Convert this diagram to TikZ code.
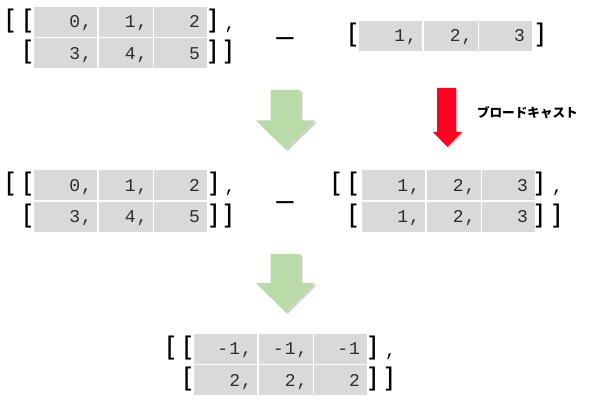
\documentclass[tikz,border=0pt]{standalone}
\usepackage{fontspec}
\newfontfamily\monof[LetterSpace=6]{Liberation Mono}
\newfontfamily\brkf{DejaVu Sans Mono}
\newfontfamily\dashf{Liberation Sans}
\newfontfamily\cjkf{Noto Sans CJK JP}
\definecolor{cellgray}{RGB}{217,217,217}
\definecolor{numgray}{RGB}{45,45,45}
\definecolor{arrgreen}{RGB}{185,219,168}
\definecolor{arrred}{RGB}{255,0,33}
\tikzset{
  cellbg/.style={fill=cellgray},
  num/.style={font=\monof\fontsize{18}{18}\selectfont, text=numgray, inner sep=0pt, outer sep=0pt, anchor=base east},
  brk/.style={font=\brkf\fontsize{27}{27}\selectfont, text=black, inner sep=0pt, outer sep=0pt},
  cma/.style={font=\monof\fontsize{18}{18}\selectfont, text=black, inner sep=0pt, outer sep=0pt, anchor=base},
  minus/.style={font=\dashf\fontsize{31}{31}\selectfont, text=black, inner sep=0pt, outer sep=0pt, anchor=base},
  lbl/.style={font=\cjkf\bfseries\fontsize{12.6}{12.6}\selectfont, text=black, inner sep=0pt, outer sep=0pt, anchor=west},
  garrow/.style={fill=arrgreen},
  rarrow/.style={fill=arrred},
  ashadow/.style={fill=black, opacity=0.18},
}
\newcommand\matrow[6]{%
  \fill[cellbg] (#2,#3) rectangle ++(63,30);
  \fill[cellbg] (#2+64.5,#3) rectangle ++(54,30);
  \fill[cellbg] (#2+120,#3) rectangle ++(53,30);
  \node[num] (#1a) at (#2+58,#3+21) {#4};
  \node[num] (#1b) at (#2+113.5,#3+21) {#5};
  \node[num] (#1c) at (#2+166,#3+21) {#6};
}
\begin{document}
\begin{tikzpicture}[x=1pt,y=-1pt]
\useasboundingbox[fill=white] (0,0) rectangle (590,403);
% ---------- top left matrix
\matrow{tla}{34}{7}{0,}{1,}{2}
\matrow{tlb}{34}{38.5}{3,}{4,}{5}
\node[brk] (tlo) at (10,21) {[};
\node[brk] (tli1) at (27.5,21) {[};
\node[brk] (tlc1) at (213,21) {]};
\node[cma] (tlk) at (230,29.5) {,};
\node[brk] (tli2) at (27.5,52.5) {[};
\node[brk] (tlc2) at (213,52.5) {]};
\node[brk] (tlc3) at (228.5,52.5) {]};
% minus top
\node[minus] (m1) at (285,47) {–};
% ---------- top right vector
\matrow{tr}{359}{21}{1,}{2,}{3}
\node[brk] (tro) at (352.5,35) {[};
\node[brk] (trc) at (540.5,35) {]};
% ---------- arrows
\fill[ashadow] (272.5,92) -- (302.5,92) -- (302.5,122.5) -- (317,122.5) -- (287.5,151) -- (258,122.5) -- (272.5,122.5) -- cycle;
\fill[garrow] (270.5,90) -- (300.5,90) -- (300.5,120.5) -- (315,120.5) -- (285.5,149) -- (256,120.5) -- (270.5,120.5) -- cycle;
\fill[ashadow] (438.5,89.5) -- (457.5,89.5) -- (457.5,133.5) -- (463.5,133.5) -- (449,148.5) -- (434.5,133.5) -- (438.5,133.5) -- cycle;
\fill[rarrow] (437,88) -- (456,88) -- (456,132) -- (462,132) -- (447.5,147) -- (433,132) -- (437,132) -- cycle;
\node[lbl] (bc) at (477,113) {ブロードキャスト};
% ---------- middle left matrix
\matrow{mla}{34}{170.5}{0,}{1,}{2}
\matrow{mlb}{34}{202}{3,}{4,}{5}
\node[brk] (mlo) at (10,184.5) {[};
\node[brk] (mli1) at (27.5,184.5) {[};
\node[brk] (mlc1) at (214,184.5) {]};
\node[cma] (mlk) at (230,193) {,};
\node[brk] (mli2) at (27.5,216) {[};
\node[brk] (mlc2) at (214,216) {]};
\node[brk] (mlc3) at (228.5,216) {]};
\node[minus] (m2) at (285,210.5) {–};
% ---------- middle right matrix
\matrow{mra}{362}{170.5}{1,}{2,}{3}
\matrow{mrb}{362}{202}{1,}{2,}{3}
\node[brk] (mro) at (336,184.5) {[};
\node[brk] (mri1) at (353,184.5) {[};
\node[brk] (mrc1) at (539.5,184.5) {]};
\node[cma] (mrk) at (557.5,193) {,};
\node[brk] (mri2) at (353,216) {[};
\node[brk] (mrc2) at (539.5,216) {]};
\node[brk] (mrc3) at (557,216) {]};
% ---------- second green arrow
\fill[ashadow] (272.5,256) -- (302.5,256) -- (302.5,285) -- (317,285) -- (287.5,314) -- (258,285) -- (272.5,285) -- cycle;
\fill[garrow] (270.5,254) -- (300.5,254) -- (300.5,283) -- (315,283) -- (285.5,312) -- (256,283) -- (270.5,283) -- cycle;
% ---------- result matrix
\matrow{rsa}{194}{334}{-1,}{-1,}{-1}
\matrow{rsb}{194}{365.5}{2,}{2,}{2}
\node[brk] (rso) at (170.5,348) {[};
\node[brk] (rsi1) at (187.5,348) {[};
\node[brk] (rsc1) at (373,348) {]};
\node[cma] (rsk) at (390.5,356.5) {,};
\node[brk] (rsi2) at (187.5,379.5) {[};
\node[brk] (rsc2) at (373,379.5) {]};
\node[brk] (rsc3) at (389.5,379.5) {]};
\end{tikzpicture}
\end{document}
